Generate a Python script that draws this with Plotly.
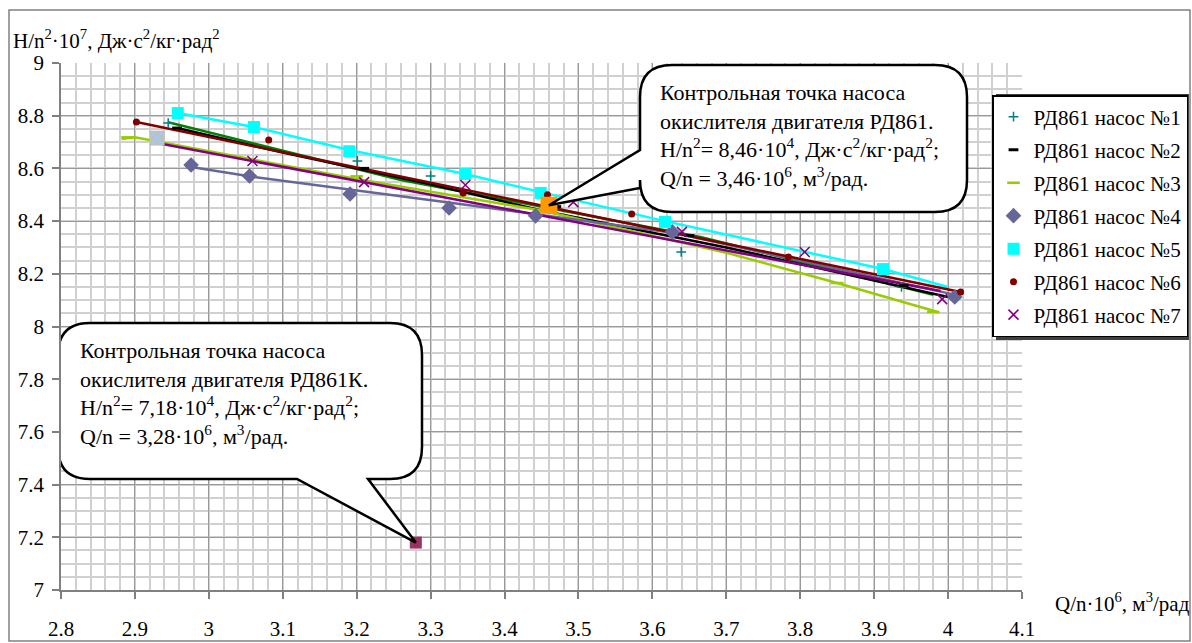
import plotly.graph_objects as go

# ---------------- data ----------------
names = ["РД861 насос №1", "РД861 насос №2", "РД861 насос №3", "РД861 насос №4",
         "РД861 насос №5", "РД861 насос №6", "РД861 насос №7"]

# measured points (markers)
s1_x = [2.945, 3.201, 3.300, 3.639, 3.937]
s1_y = [8.772, 8.628, 8.571, 8.283, 8.150]
s2_x = [2.957, 3.210, 3.470, 3.650, 3.940]
s2_y = [8.753, 8.600, 8.455, 8.345, 8.155]
s3_x = [2.890, 3.200, 3.460, 3.850, 3.980]
s3_y = [8.718, 8.570, 8.445, 8.165, 8.055]
s4_x = [2.976, 3.055, 3.191, 3.325, 3.442, 3.627, 4.009]
s4_y = [8.613, 8.571, 8.503, 8.450, 8.420, 8.359, 8.112]
s5_x = [2.958, 3.061, 3.190, 3.347, 3.449, 3.617, 3.912]
s5_y = [8.810, 8.757, 8.665, 8.579, 8.507, 8.397, 8.218]
s6_x = [2.902, 3.081, 3.344, 3.458, 3.572, 3.784, 4.017]
s6_y = [8.776, 8.708, 8.507, 8.500, 8.427, 8.264, 8.131]
s7_x = [3.059, 3.210, 3.347, 3.493, 3.640, 3.806, 3.992]
s7_y = [8.628, 8.548, 8.537, 8.472, 8.359, 8.283, 8.104]

# characteristic curves (lines)
l1_x = [2.945, 3.260, 3.665, 3.980]
l1_y = [8.775, 8.556, 8.340, 8.120]
l2_x = [2.957, 3.100, 3.300, 3.450, 3.700, 4.000]
l2_y = [8.753, 8.660, 8.540, 8.440, 8.300, 8.112]
l3_x = [2.882, 2.900, 3.200, 3.450, 3.700, 3.850, 3.986]
l3_y = [8.712, 8.718, 8.560, 8.440, 8.280, 8.165, 8.055]
l4_x = [2.976, 3.055, 3.190, 3.327, 3.630, 4.010]
l4_y = [8.605, 8.570, 8.520, 8.470, 8.355, 8.120]
l5_x = [2.958, 3.061, 3.190, 3.347, 3.449, 3.617, 3.912, 4.000]
l5_y = [8.810, 8.757, 8.670, 8.579, 8.510, 8.400, 8.218, 8.150]
l6_x = [2.902, 4.017]
l6_y = [8.776, 8.131]
l7_x = [2.930, 3.990]
l7_y = [8.696, 8.135]

# control points
cp1_x, cp1_y = 3.46, 8.46    # РД861
cp2_x, cp2_y = 3.28, 7.18    # РД861К
start_x, start_y = 2.93, 8.715

x_ticks = [2.8, 2.9, 3.0, 3.1, 3.2, 3.3, 3.4, 3.5, 3.6, 3.7, 3.8, 3.9, 4.0, 4.1]
x_ticktext = ["2.8", "2.9", "3", "3.1", "3.2", "3.3", "3.4", "3.5", "3.6", "3.7", "3.8", "3.9", "4", "4.1"]
y_ticks = [7.0, 7.2, 7.4, 7.6, 7.8, 8.0, 8.2, 8.4, 8.6, 8.8, 9.0]
y_ticktext = ["7", "7.2", "7.4", "7.6", "7.8", "8", "8.2", "8.4", "8.6", "8.8", "9"]

# ---------------- layout geometry ----------------
W, H = 1192, 643
ML, MR, MT, MB = 61, 170, 63, 53
XR = (2.8, 4.1)
YR = (7.0, 9.0)
PW, PH = W - ML - MR, H - MT - MB


def px2x(px):
    return XR[0] + (px - ML) / PW * (XR[1] - XR[0])


def px2y(py):
    return YR[1] - (py - MT) / PH * (YR[1] - YR[0])


def pxp(px):
    return (px - ML) / PW


def pyp(py):
    return (MT + PH - py) / PH


FONT = "Liberation Serif, Times New Roman, Times, serif"
fig = go.Figure()

line_cols = ["#008000", "#000000", "#99CC00", "#666699", "#00FFFF", "#800000", "#800080"]
lines = [(l1_x, l1_y), (l2_x, l2_y), (l3_x, l3_y), (l4_x, l4_y), (l5_x, l5_y), (l6_x, l6_y), (l7_x, l7_y)]
for (lx, ly), c in zip(lines, line_cols):
    fig.add_trace(go.Scatter(x=lx, y=ly, mode="lines", line=dict(color=c, width=2.5),
                             showlegend=False, hoverinfo="skip"))

# start marker (gray square with x)
fig.add_trace(go.Scatter(x=[start_x], y=[start_y], mode="markers", showlegend=False,
                         marker=dict(symbol="square", size=15, color="#C0C0C0")))
fig.add_trace(go.Scatter(x=[start_x], y=[start_y], mode="markers", showlegend=False,
                         marker=dict(symbol="x-thin", size=11, line=dict(color="#99CCFF", width=1.5))))

markers = [
    (s1_x, s1_y, dict(symbol="cross-thin", size=7, line=dict(color="#008080", width=1.5), color="#008080")),
    (s2_x, s2_y, dict(symbol="line-ew", size=7, line=dict(color="#000000", width=3), color="#000000")),
    (s3_x, s3_y, dict(symbol="line-ew", size=9, line=dict(color="#99CC00", width=2.5), color="#99CC00")),
    (s4_x, s4_y, dict(symbol="diamond", size=12, color="#666699")),
    (s5_x, s5_y, dict(symbol="square", size=12, color="#00FFFF")),
    (s6_x, s6_y, dict(symbol="circle", size=7, color="#800000")),
    (s7_x, s7_y, dict(symbol="x-thin", size=10, line=dict(color="#800080", width=1.5), color="#800080")),
]
for i, (mx, my, mk) in enumerate(markers):
    fig.add_trace(go.Scatter(x=mx, y=my, mode="markers", name=names[i], marker=mk,
                             legendgroup="g%d" % i))

# control points
fig.add_trace(go.Scatter(x=[cp1_x], y=[cp1_y], mode="markers", showlegend=False,
                         marker=dict(symbol="square", size=17, color="#FF9900")))
fig.add_trace(go.Scatter(x=[cp2_x], y=[cp2_y], mode="markers", showlegend=False,
                         marker=dict(symbol="square", size=12, color="#993366")))


def bubble(x0, y0, x1, y1, r, wedge, side):
    """rounded-rect callout in pixel coords; wedge = (a, b, tx, ty)."""
    a, b, tx, ty = wedge
    P = lambda X, Y: "%.5f,%.5f" % (px2x(X), px2y(Y))
    p = "M " + P(x0 + r, y0)
    p += " L " + P(x1 - r, y0) + " Q " + P(x1, y0) + " " + P(x1, y0 + r)
    p += " L " + P(x1, y1 - r) + " Q " + P(x1, y1) + " " + P(x1 - r, y1)
    if side == "bottom":
        p += " L " + P(b, y1) + " L %.5f,%.5f" % (tx, ty) + " L " + P(a, y1)
    p += " L " + P(x0 + r, y1) + " Q " + P(x0, y1) + " " + P(x0, y1 - r)
    if side == "left":
        p += " L " + P(x0, b) + " L %.5f,%.5f" % (tx, ty) + " L " + P(x0, a)
    p += " L " + P(x0, y0 + r) + " Q " + P(x0, y0) + " " + P(x0 + r, y0) + " Z"
    return dict(type="path", path=p, xref="x", yref="y", fillcolor="white",
                line=dict(color="black", width=2.5), layer="above")


shapes = [
    bubble(640, 65, 967, 212, 32, (150, 188, cp1_x, cp1_y), "left"),
    bubble(58, 323, 422, 479, 32, (297, 368, cp2_x, cp2_y), "bottom"),
    # chart border
    dict(type="rect", xref="paper", yref="paper",
         x0=pxp(9), x1=pxp(1190), y0=pyp(641), y1=pyp(10),
         line=dict(color="#808080", width=1.5), fillcolor="rgba(0,0,0,0)", layer="below"),
    # legend shadow
    dict(type="rect", xref="paper", yref="paper",
         x0=pxp(996), x1=pxp(1189), y0=pyp(340), y1=pyp(94),
         line=dict(width=0), fillcolor="#404040", layer="above"),
]

ann_font = dict(family=FONT, size=22, color="black")
ax_font = dict(family=FONT, size=21, color="black")
annotations = [
    dict(xref="paper", yref="paper", x=pxp(658), y=pyp(78),
         xanchor="left", yanchor="top", align="left", showarrow=False, font=ann_font,
         text="Контрольная точка насоса<br>окислителя двигателя РД861.<br>"
              "H/n<sup>2</sup>= 8,46·10<sup>4</sup>, Дж·с<sup>2</sup>/кг·рад<sup>2</sup>;<br>"
              "Q/n = 3,46·10<sup>6</sup>, м<sup>3</sup>/рад."),
    dict(xref="paper", yref="paper", x=pxp(78), y=pyp(336),
         xanchor="left", yanchor="top", align="left", showarrow=False, font=ann_font,
         text="Контрольная точка насоса<br>окислителя двигателя РД861К.<br>"
              "H/n<sup>2</sup>= 7,18·10<sup>4</sup>, Дж·с<sup>2</sup>/кг·рад<sup>2</sup>;<br>"
              "Q/n = 3,28·10<sup>6</sup>, м<sup>3</sup>/рад."),
    dict(xref="paper", yref="paper", x=pxp(11), y=pyp(40),
         xanchor="left", yanchor="middle", showarrow=False, font=ax_font,
         text="H/n<sup>2</sup>·10<sup>7</sup>, Дж·с<sup>2</sup>/кг·рад<sup>2</sup>"),
    dict(xref="paper", yref="paper", x=pxp(1053), y=pyp(602),
         xanchor="left", yanchor="middle", showarrow=False, font=ax_font,
         text="Q/n·10<sup>6</sup>, м<sup>3</sup>/рад"),
]

axis_common = dict(showline=True, linecolor="#808080", linewidth=1.5, ticks="outside",
                   ticklen=7, tickcolor="#808080", tickwidth=1.5, gridcolor="#999999", gridwidth=1,
                   zeroline=False, automargin=False, tickfont=ax_font)

fig.update_layout(
    width=W, height=H, margin=dict(l=ML, r=MR, t=MT, b=MB, autoexpand=False),
    paper_bgcolor="white", plot_bgcolor="white",
    xaxis=dict(range=list(XR), tickvals=x_ticks, ticktext=x_ticktext,
               minor=dict(dtick=0.02, showgrid=True, gridcolor="#D0D0D0", gridwidth=1.5, ticks=""),
               ticklabelstandoff=12, **axis_common),
    yaxis=dict(range=list(YR), tickvals=y_ticks, ticktext=y_ticktext,
               minor=dict(dtick=0.05, showgrid=True, gridcolor="#D0D0D0", gridwidth=1.5, ticks=""),
               ticklabelstandoff=4, **axis_common),
    legend=dict(x=pxp(992), y=pyp(95), xanchor="left", yanchor="top",
                bgcolor="white", bordercolor="black", borderwidth=1.5,
                font=dict(family=FONT, size=21, color="black"),
                traceorder="grouped", tracegroupgap=2.7, itemsizing="trace"),
    shapes=shapes, annotations=annotations, showlegend=True,
)

fig.write_html("out.html")
